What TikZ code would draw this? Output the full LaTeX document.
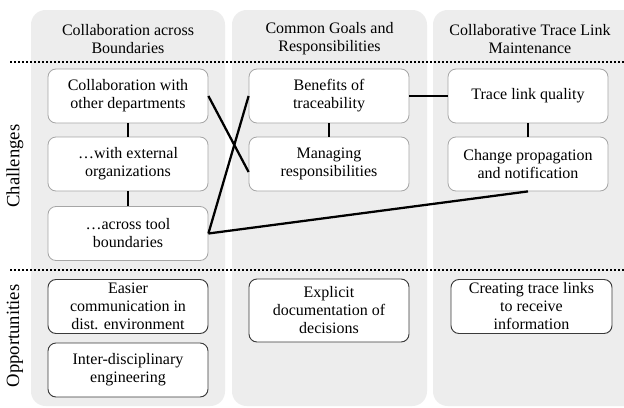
\documentclass[tikz,border=0pt]{standalone}
\usepackage{fontspec}
\setmainfont{Liberation Serif}
\usetikzlibrary{calc}
\definecolor{panelgray}{HTML}{EDEDED}
\definecolor{chborder}{HTML}{A6A6A6}
\definecolor{opborder}{HTML}{3A3A3A}
\tikzset{
  panel/.style={fill=panelgray, rounded corners=11pt},
  txt/.style={font=\fontsize{12}{13.5}\selectfont, align=center, inner sep=0pt},
  chbox/.style={txt, draw=chborder, fill=white, line width=0.6pt, rounded corners=6pt,
    minimum width=120pt, minimum height=40.5pt},
  opbox/.style={txt, draw=opborder, fill=white, line width=0.7pt, rounded corners=6pt,
    minimum width=120pt, minimum height=40.5pt},
  sep/.style={line width=1.6pt, dash pattern=on 1.5pt off 1.5pt},
  link/.style={line width=1.7pt, black},
  side/.style={font=\fontsize{14}{16}\selectfont, rotate=90, inner sep=0pt}
}
\begin{document}
\begin{tikzpicture}[x=0.75pt, y=-0.75pt]
\useasboundingbox (0,0) rectangle (624,407);
\clip (0,0) rectangle (624,407);
\fill[white] (0,0) rectangle (624,407);
% panels
\fill[panel] (31,10) rectangle (225,406);
\fill[panel] (232,10) rectangle (427,406);
\fill[panel] (433,10) rectangle (642,406);
% headers
\node[txt] (h1) at (128,39) {Collaboration across\\Boundaries};
\node[txt] (h2) at (329.5,39) {Common Goals and\\Responsibilities};
\node[txt] (h3) at (530,39) {Collaborative Trace Link\\Maintenance};
% separators
\coordinate (s1a) at (10,62); \coordinate (s1b) at (624,62);
\coordinate (s2a) at (10,270); \coordinate (s2b) at (624,270);
\draw[sep] (s1a) -- (s1b);
\draw[sep] (s2a) -- (s2b);
% side labels
\node[side] (lc) at (15,166) {Challenges};
\node[side] (lo) at (15,336) {Opportunities};
% challenge boxes
\node[chbox] (b1) at (128,96) {Collaboration with\\other departments};
\node[chbox] (b2) at (128,164) {\dots with external\\organizations};
\node[chbox] (b3) at (128,233.5) {\dots across tool\\boundaries};
\node[chbox] (c1) at (329,96) {Benefits of\\traceability};
\node[chbox] (c2) at (329,164) {Managing\\responsibilities};
\node[chbox] (t1) at (528,96) {Trace link quality};
\node[chbox] (t2) at (528,164) {Change propagation\\and notification};
% opportunity boxes
\node[opbox] (o1) at (128,306.5) {Easier\\communication in\\dist. environment};
\node[opbox] (o2) at (128,370) {Inter-disciplinary\\engineering};
\node[opbox, minimum height=47.25pt] (oc) at (329,310.5) {Explicit\\documentation of\\decisions};
\node[opbox, minimum width=120.75pt] (ot) at (531.5,306.5) {Creating trace links\\to receive\\information};
% links
\draw[link] (b1) -- (b2);
\draw[link] (b2) -- (b3);
\draw[link] (c1) -- (c2);
\draw[link] (t1) -- (t2);
\draw[link] (c1.east) -- (t1.west);
\draw[link] (b1.east) -- ($(c2.west)+(0,8)$);
\draw[link] (c1.west) -- (b3.east);
\draw[link] (b3.east) -- (t2.south);
\end{tikzpicture}
\end{document}
